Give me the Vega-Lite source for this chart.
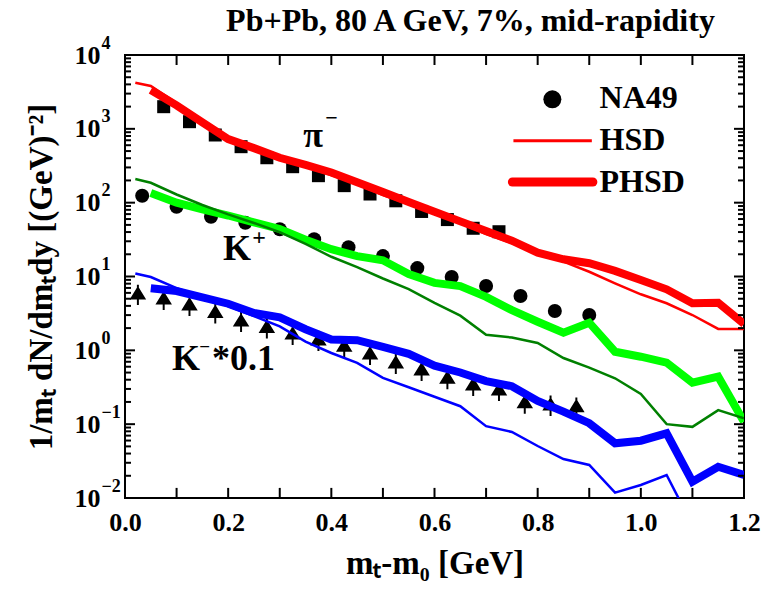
{
  "$schema": "https://vega.github.io/schema/vega-lite/v6.json",
  "width": 619,
  "height": 443,
  "autosize": {"type": "none"},
  "padding": {"left": 125, "top": 55, "right": 19, "bottom": 97},
  "background": "white",
  "config": {
    "view": {"stroke": "black", "strokeWidth": 2},
    "font": "Liberation Serif",
    "axis": {"labelFont": "Liberation Serif", "labelFontWeight": "bold", "labelColor": "black", "titleFont": "Liberation Serif", "titleFontWeight": "bold", "titleColor": "black", "ticks": false, "domain": false, "grid": false, "labelOverlap": false, "labelFlush": false}
  },
  "title": {"text": "Pb+Pb, 80 A GeV, 7%, mid-rapidity", "font": "Liberation Serif", "fontSize": 32, "fontWeight": "bold", "color": "black", "anchor": "middle", "frame": "group", "offset": -4, "dx": 36},
  "datasets": {
    "theory": [
      {"s": "pi HSD", "x": 0.02, "y": 4217}, {"s": "pi HSD", "x": 0.05, "y": 3800}, {"s": "pi HSD", "x": 0.1, "y": 2240}, {"s": "pi HSD", "x": 0.15, "y": 1318}, {"s": "pi HSD", "x": 0.2, "y": 775}, {"s": "pi HSD", "x": 0.25, "y": 550}, {"s": "pi HSD", "x": 0.3, "y": 403}, {"s": "pi HSD", "x": 0.35, "y": 309}, {"s": "pi HSD", "x": 0.4, "y": 237}, {"s": "pi HSD", "x": 0.45, "y": 179}, {"s": "pi HSD", "x": 0.5, "y": 127}, {"s": "pi HSD", "x": 0.55, "y": 96}, {"s": "pi HSD", "x": 0.6, "y": 72.4}, {"s": "pi HSD", "x": 0.65, "y": 53}, {"s": "pi HSD", "x": 0.7, "y": 37.6}, {"s": "pi HSD", "x": 0.75, "y": 28.4}, {"s": "pi HSD", "x": 0.8, "y": 20.6}, {"s": "pi HSD", "x": 0.85, "y": 15.9}, {"s": "pi HSD", "x": 0.9, "y": 11.6}, {"s": "pi HSD", "x": 0.95, "y": 8.09}, {"s": "pi HSD", "x": 1.0, "y": 5.74}, {"s": "pi HSD", "x": 1.05, "y": 4.34}, {"s": "pi HSD", "x": 1.1, "y": 3.01}, {"s": "pi HSD", "x": 1.15, "y": 1.95}, {"s": "pi HSD", "x": 1.2, "y": 1.95},
      {"s": "pi PHSD", "x": 0.05, "y": 3357}, {"s": "pi PHSD", "x": 0.1, "y": 2083}, {"s": "pi PHSD", "x": 0.15, "y": 1225}, {"s": "pi PHSD", "x": 0.2, "y": 728}, {"s": "pi PHSD", "x": 0.25, "y": 548}, {"s": "pi PHSD", "x": 0.3, "y": 405}, {"s": "pi PHSD", "x": 0.35, "y": 324}, {"s": "pi PHSD", "x": 0.4, "y": 256}, {"s": "pi PHSD", "x": 0.45, "y": 189}, {"s": "pi PHSD", "x": 0.5, "y": 139}, {"s": "pi PHSD", "x": 0.55, "y": 102}, {"s": "pi PHSD", "x": 0.6, "y": 75.5}, {"s": "pi PHSD", "x": 0.65, "y": 55.8}, {"s": "pi PHSD", "x": 0.7, "y": 41.3}, {"s": "pi PHSD", "x": 0.75, "y": 30.5}, {"s": "pi PHSD", "x": 0.8, "y": 21.0}, {"s": "pi PHSD", "x": 0.85, "y": 17.1}, {"s": "pi PHSD", "x": 0.9, "y": 15.1}, {"s": "pi PHSD", "x": 0.95, "y": 11.9}, {"s": "pi PHSD", "x": 1.0, "y": 8.96}, {"s": "pi PHSD", "x": 1.05, "y": 6.7}, {"s": "pi PHSD", "x": 1.1, "y": 4.33}, {"s": "pi PHSD", "x": 1.15, "y": 4.42}, {"s": "pi PHSD", "x": 1.2, "y": 2.28},
      {"s": "K+ HSD", "x": 0.02, "y": 209}, {"s": "K+ HSD", "x": 0.05, "y": 186}, {"s": "K+ HSD", "x": 0.1, "y": 129}, {"s": "K+ HSD", "x": 0.15, "y": 93}, {"s": "K+ HSD", "x": 0.2, "y": 69.5}, {"s": "K+ HSD", "x": 0.25, "y": 53}, {"s": "K+ HSD", "x": 0.3, "y": 40}, {"s": "K+ HSD", "x": 0.35, "y": 27.6}, {"s": "K+ HSD", "x": 0.4, "y": 18.5}, {"s": "K+ HSD", "x": 0.45, "y": 13.4}, {"s": "K+ HSD", "x": 0.5, "y": 9.4}, {"s": "K+ HSD", "x": 0.55, "y": 6.75}, {"s": "K+ HSD", "x": 0.6, "y": 4.4}, {"s": "K+ HSD", "x": 0.65, "y": 2.95}, {"s": "K+ HSD", "x": 0.7, "y": 1.62}, {"s": "K+ HSD", "x": 0.75, "y": 1.49}, {"s": "K+ HSD", "x": 0.8, "y": 1.26}, {"s": "K+ HSD", "x": 0.85, "y": 0.787}, {"s": "K+ HSD", "x": 0.9, "y": 0.582}, {"s": "K+ HSD", "x": 0.95, "y": 0.418}, {"s": "K+ HSD", "x": 1.0, "y": 0.256}, {"s": "K+ HSD", "x": 1.05, "y": 0.1}, {"s": "K+ HSD", "x": 1.1, "y": 0.092}, {"s": "K+ HSD", "x": 1.15, "y": 0.155}, {"s": "K+ HSD", "x": 1.2, "y": 0.12},
      {"s": "K+ PHSD", "x": 0.05, "y": 135}, {"s": "K+ PHSD", "x": 0.1, "y": 100}, {"s": "K+ PHSD", "x": 0.15, "y": 81}, {"s": "K+ PHSD", "x": 0.2, "y": 67}, {"s": "K+ PHSD", "x": 0.25, "y": 54}, {"s": "K+ PHSD", "x": 0.3, "y": 44}, {"s": "K+ PHSD", "x": 0.35, "y": 31.5}, {"s": "K+ PHSD", "x": 0.4, "y": 23.4}, {"s": "K+ PHSD", "x": 0.45, "y": 18.9}, {"s": "K+ PHSD", "x": 0.5, "y": 16.6}, {"s": "K+ PHSD", "x": 0.55, "y": 10.8}, {"s": "K+ PHSD", "x": 0.6, "y": 8.2}, {"s": "K+ PHSD", "x": 0.65, "y": 7.4}, {"s": "K+ PHSD", "x": 0.7, "y": 5.3}, {"s": "K+ PHSD", "x": 0.75, "y": 3.5}, {"s": "K+ PHSD", "x": 0.8, "y": 2.44}, {"s": "K+ PHSD", "x": 0.85, "y": 1.73}, {"s": "K+ PHSD", "x": 0.9, "y": 2.37}, {"s": "K+ PHSD", "x": 0.95, "y": 0.957}, {"s": "K+ PHSD", "x": 1.0, "y": 0.82}, {"s": "K+ PHSD", "x": 1.05, "y": 0.68}, {"s": "K+ PHSD", "x": 1.1, "y": 0.364}, {"s": "K+ PHSD", "x": 1.15, "y": 0.44}, {"s": "K+ PHSD", "x": 1.2, "y": 0.108},
      {"s": "K- HSD", "x": 0.02, "y": 11.0}, {"s": "K- HSD", "x": 0.05, "y": 9.84}, {"s": "K- HSD", "x": 0.1, "y": 6.95}, {"s": "K- HSD", "x": 0.15, "y": 5.28}, {"s": "K- HSD", "x": 0.2, "y": 3.97}, {"s": "K- HSD", "x": 0.25, "y": 2.9}, {"s": "K- HSD", "x": 0.3, "y": 2.11}, {"s": "K- HSD", "x": 0.35, "y": 1.31}, {"s": "K- HSD", "x": 0.4, "y": 0.92}, {"s": "K- HSD", "x": 0.45, "y": 0.675}, {"s": "K- HSD", "x": 0.5, "y": 0.423}, {"s": "K- HSD", "x": 0.55, "y": 0.316}, {"s": "K- HSD", "x": 0.6, "y": 0.235}, {"s": "K- HSD", "x": 0.65, "y": 0.175}, {"s": "K- HSD", "x": 0.7, "y": 0.094}, {"s": "K- HSD", "x": 0.75, "y": 0.0783}, {"s": "K- HSD", "x": 0.8, "y": 0.0506}, {"s": "K- HSD", "x": 0.85, "y": 0.0337}, {"s": "K- HSD", "x": 0.9, "y": 0.028}, {"s": "K- HSD", "x": 0.95, "y": 0.0118}, {"s": "K- HSD", "x": 1.0, "y": 0.015}, {"s": "K- HSD", "x": 1.05, "y": 0.0205}, {"s": "K- HSD", "x": 1.1, "y": 0.0043},
      {"s": "K- PHSD", "x": 0.05, "y": 6.95}, {"s": "K- PHSD", "x": 0.1, "y": 6.36}, {"s": "K- PHSD", "x": 0.15, "y": 5.23}, {"s": "K- PHSD", "x": 0.2, "y": 4.28}, {"s": "K- PHSD", "x": 0.25, "y": 3.2}, {"s": "K- PHSD", "x": 0.3, "y": 2.8}, {"s": "K- PHSD", "x": 0.35, "y": 1.93}, {"s": "K- PHSD", "x": 0.4, "y": 1.4}, {"s": "K- PHSD", "x": 0.45, "y": 1.37}, {"s": "K- PHSD", "x": 0.5, "y": 1.11}, {"s": "K- PHSD", "x": 0.55, "y": 0.895}, {"s": "K- PHSD", "x": 0.6, "y": 0.62}, {"s": "K- PHSD", "x": 0.65, "y": 0.501}, {"s": "K- PHSD", "x": 0.7, "y": 0.383}, {"s": "K- PHSD", "x": 0.75, "y": 0.327}, {"s": "K- PHSD", "x": 0.8, "y": 0.206}, {"s": "K- PHSD", "x": 0.85, "y": 0.148}, {"s": "K- PHSD", "x": 0.9, "y": 0.103}, {"s": "K- PHSD", "x": 0.95, "y": 0.0551}, {"s": "K- PHSD", "x": 1.0, "y": 0.0597}, {"s": "K- PHSD", "x": 1.05, "y": 0.0752}, {"s": "K- PHSD", "x": 1.1, "y": 0.0166}, {"s": "K- PHSD", "x": 1.15, "y": 0.0265}, {"s": "K- PHSD", "x": 1.2, "y": 0.0205}
    ],
    "na49": [
      {"p": "pi", "x": 0.075, "y": 1995}, {"p": "pi", "x": 0.125, "y": 1250}, {"p": "pi", "x": 0.175, "y": 825}, {"p": "pi", "x": 0.225, "y": 573}, {"p": "pi", "x": 0.275, "y": 406}, {"p": "pi", "x": 0.325, "y": 307}, {"p": "pi", "x": 0.375, "y": 232}, {"p": "pi", "x": 0.425, "y": 170}, {"p": "pi", "x": 0.475, "y": 131}, {"p": "pi", "x": 0.525, "y": 106}, {"p": "pi", "x": 0.575, "y": 76}, {"p": "pi", "x": 0.625, "y": 59}, {"p": "pi", "x": 0.675, "y": 45}, {"p": "pi", "x": 0.725, "y": 40.4},
      {"p": "K+", "x": 0.0333, "y": 124}, {"p": "K+", "x": 0.1, "y": 88}, {"p": "K+", "x": 0.1667, "y": 64.5}, {"p": "K+", "x": 0.2333, "y": 53.5}, {"p": "K+", "x": 0.3, "y": 43.6}, {"p": "K+", "x": 0.3667, "y": 31.9}, {"p": "K+", "x": 0.4333, "y": 24.9}, {"p": "K+", "x": 0.5, "y": 18.9}, {"p": "K+", "x": 0.5667, "y": 13.0}, {"p": "K+", "x": 0.6333, "y": 9.85}, {"p": "K+", "x": 0.7, "y": 7.43}, {"p": "K+", "x": 0.7667, "y": 5.44}, {"p": "K+", "x": 0.8333, "y": 3.41}, {"p": "K+", "x": 0.9, "y": 3.01},
      {"p": "K-", "x": 0.025, "y": 5.79}, {"p": "K-", "x": 0.075, "y": 4.96}, {"p": "K-", "x": 0.125, "y": 4.11}, {"p": "K-", "x": 0.175, "y": 3.25}, {"p": "K-", "x": 0.225, "y": 2.49}, {"p": "K-", "x": 0.275, "y": 2.04}, {"p": "K-", "x": 0.325, "y": 1.66}, {"p": "K-", "x": 0.375, "y": 1.38}, {"p": "K-", "x": 0.425, "y": 1.14}, {"p": "K-", "x": 0.475, "y": 0.891}, {"p": "K-", "x": 0.525, "y": 0.673}, {"p": "K-", "x": 0.575, "y": 0.542}, {"p": "K-", "x": 0.625, "y": 0.42}, {"p": "K-", "x": 0.675, "y": 0.339}, {"p": "K-", "x": 0.725, "y": 0.29}, {"p": "K-", "x": 0.775, "y": 0.195}, {"p": "K-", "x": 0.825, "y": 0.182}, {"p": "K-", "x": 0.875, "y": 0.172}
    ],
    "xticks": [{"v": 0.1}, {"v": 0.2}, {"v": 0.3}, {"v": 0.4}, {"v": 0.5}, {"v": 0.6}, {"v": 0.7}, {"v": 0.8}, {"v": 0.9}, {"v": 1.0}, {"v": 1.1}],
    "ymajor": [{"v": 0.1}, {"v": 1}, {"v": 10}, {"v": 100}, {"v": 1000}],
    "yminor": [{"v": 0.02}, {"v": 0.03}, {"v": 0.04}, {"v": 0.05}, {"v": 0.06}, {"v": 0.07}, {"v": 0.08}, {"v": 0.09}, {"v": 0.2}, {"v": 0.3}, {"v": 0.4}, {"v": 0.5}, {"v": 0.6}, {"v": 0.7}, {"v": 0.8}, {"v": 0.9}, {"v": 2}, {"v": 3}, {"v": 4}, {"v": 5}, {"v": 6}, {"v": 7}, {"v": 8}, {"v": 9}, {"v": 20}, {"v": 30}, {"v": 40}, {"v": 50}, {"v": 60}, {"v": 70}, {"v": 80}, {"v": 90}, {"v": 200}, {"v": 300}, {"v": 400}, {"v": 500}, {"v": 600}, {"v": 700}, {"v": 800}, {"v": 900}, {"v": 2000}, {"v": 3000}, {"v": 4000}, {"v": 5000}, {"v": 6000}, {"v": 7000}, {"v": 8000}, {"v": 9000}],
    "one": [{}]
  },
  "layer": [
    {
      "data": {"name": "na49"},
      "transform": [{"filter": "datum.p === 'pi'"}],
      "mark": {"type": "point", "shape": "square", "filled": true, "color": "black", "opacity": 1, "size": 169},
      "encoding": {
        "x": {"field": "x", "type": "quantitative", "scale": {"domain": [0, 1.2], "nice": false, "zero": false}, "axis": null},
        "y": {"field": "y", "type": "quantitative", "scale": {"type": "log", "domain": [0.01, 10000], "nice": false},
          "axis": {"orient": "left", "values": [0.01, 0.1, 1, 10, 100, 1000, 10000], "labelExpr": "format(log(datum.value)/LN10, 'd')", "labelAlign": "left", "labelPadding": 24, "labelFontSize": 18, "labelOffset": -12, "title": null}}
      }
    },
    {
      "data": {"name": "na49"},
      "transform": [{"filter": "datum.p === 'K+'"}],
      "mark": {"type": "point", "shape": "circle", "filled": true, "color": "black", "opacity": 1, "size": 196},
      "encoding": {
        "x": {"field": "x", "type": "quantitative", "axis": null},
        "y": {"field": "y", "type": "quantitative", "axis": null}
      }
    },
    {
      "data": {"name": "na49"},
      "transform": [{"filter": "datum.p === 'K-'"}],
      "mark": {"type": "point", "shape": "M0,-0.72L0.75,0.5L-0.75,0.5Z M-0.09,-0.85L0.09,-0.85L0.09,1L-0.09,1Z", "filled": true, "color": "black", "opacity": 1, "size": 484},
      "encoding": {
        "x": {"field": "x", "type": "quantitative", "axis": null},
        "y": {"field": "y", "type": "quantitative", "axis": null}
      }
    },
    {
      "data": {"name": "theory"},
      "transform": [{"filter": "indexof(datum.s, 'PHSD') >= 0"}],
      "mark": {"type": "line", "strokeWidth": 8, "clip": true},
      "encoding": {
        "x": {"field": "x", "type": "quantitative",
          "axis": {"orient": "bottom", "values": [0, 0.1, 0.2, 0.3, 0.4, 0.5, 0.6, 0.7, 0.8, 0.9, 1.0, 1.1, 1.2], "labelExpr": "round(datum.value*10) % 2 == 0 ? format(datum.value, '.1f') : ''", "labelPadding": 11, "labelFontSize": 26, "title": "mₜ-m₀ [GeV]", "titleFontSize": 33, "titlePadding": 12}},
        "y": {"field": "y", "type": "quantitative",
          "axis": {"orient": "left", "values": [0.01, 0.1, 1, 10, 100, 1000, 10000], "labelExpr": "'10'", "labelPadding": 25, "labelFontSize": 26, "title": "1/mₜ dN/dmₜdy [(GeV)⁻²]", "titleFontSize": 33, "titlePadding": 16}},
        "color": {"field": "s", "type": "nominal", "legend": null,
          "scale": {"domain": ["pi HSD", "K+ HSD", "K- HSD", "pi PHSD", "K+ PHSD", "K- PHSD"], "range": ["#ff0000", "#008000", "#0000ff", "#ff0000", "#00ff00", "#0000ff"]}}
      }
    },
    {
      "data": {"name": "theory"},
      "transform": [{"filter": "indexof(datum.s, 'PHSD') < 0"}],
      "mark": {"type": "line", "strokeWidth": 2.5, "clip": true},
      "encoding": {
        "x": {"field": "x", "type": "quantitative", "axis": null},
        "y": {"field": "y", "type": "quantitative", "axis": null},
        "color": {"field": "s", "type": "nominal", "legend": null}
      }
    },
    {
      "data": {"name": "xticks"},
      "mark": {"type": "rule", "color": "black", "strokeWidth": 2},
      "encoding": {"x": {"field": "v", "type": "quantitative", "axis": null}, "y": {"datum": 0.01, "type": "quantitative", "axis": null}, "y2": {"datum": 0.0137}}
    },
    {
      "data": {"name": "xticks"},
      "mark": {"type": "rule", "color": "black", "strokeWidth": 2},
      "encoding": {"x": {"field": "v", "type": "quantitative", "axis": null}, "y": {"datum": 10000, "type": "quantitative", "axis": null}, "y2": {"datum": 7320}}
    },
    {
      "data": {"name": "ymajor"},
      "mark": {"type": "rule", "color": "black", "strokeWidth": 2},
      "encoding": {"y": {"field": "v", "type": "quantitative", "axis": null}, "x": {"datum": 0, "type": "quantitative", "axis": null}, "x2": {"datum": 0.0194}}
    },
    {
      "data": {"name": "ymajor"},
      "mark": {"type": "rule", "color": "black", "strokeWidth": 2},
      "encoding": {"y": {"field": "v", "type": "quantitative", "axis": null}, "x": {"datum": 1.2, "type": "quantitative", "axis": null}, "x2": {"datum": 1.1806}}
    },
    {
      "data": {"name": "yminor"},
      "mark": {"type": "rule", "color": "black", "strokeWidth": 2},
      "encoding": {"y": {"field": "v", "type": "quantitative", "axis": null}, "x": {"datum": 0, "type": "quantitative", "axis": null}, "x2": {"datum": 0.0116}}
    },
    {
      "data": {"name": "yminor"},
      "mark": {"type": "rule", "color": "black", "strokeWidth": 2},
      "encoding": {"y": {"field": "v", "type": "quantitative", "axis": null}, "x": {"datum": 1.2, "type": "quantitative", "axis": null}, "x2": {"datum": 1.1884}}
    },
    {
      "data": {"name": "one"},
      "mark": {"type": "text", "text": "π", "font": "Liberation Serif", "fontWeight": "bold", "fontSize": 36, "align": "left", "baseline": "alphabetic", "color": "black"},
      "encoding": {"x": {"datum": 0.3456, "type": "quantitative", "axis": null}, "y": {"datum": 567, "type": "quantitative", "axis": null}}
    },
    {
      "data": {"name": "one"},
      "mark": {"type": "text", "text": "−", "font": "Liberation Serif", "fontWeight": "bold", "fontSize": 22, "align": "left", "baseline": "middle", "color": "black"},
      "encoding": {"x": {"datum": 0.388, "type": "quantitative", "axis": null}, "y": {"datum": 1402, "type": "quantitative", "axis": null}}
    },
    {
      "data": {"name": "one"},
      "mark": {"type": "text", "text": "K", "font": "Liberation Serif", "fontWeight": "bold", "fontSize": 36, "align": "left", "baseline": "alphabetic", "color": "black"},
      "encoding": {"x": {"datum": 0.19, "type": "quantitative", "axis": null}, "y": {"datum": 16.7, "type": "quantitative", "axis": null}}
    },
    {
      "data": {"name": "one"},
      "mark": {"type": "text", "text": "+", "font": "Liberation Serif", "fontWeight": "bold", "fontSize": 24, "align": "left", "baseline": "middle", "color": "black"},
      "encoding": {"x": {"datum": 0.2466, "type": "quantitative", "axis": null}, "y": {"datum": 33.2, "type": "quantitative", "axis": null}}
    },
    {
      "data": {"name": "one"},
      "mark": {"type": "text", "text": "K", "font": "Liberation Serif", "fontWeight": "bold", "fontSize": 36, "align": "left", "baseline": "alphabetic", "color": "black"},
      "encoding": {"x": {"datum": 0.0913, "type": "quantitative", "axis": null}, "y": {"datum": 0.541, "type": "quantitative", "axis": null}}
    },
    {
      "data": {"name": "one"},
      "mark": {"type": "text", "text": "−", "font": "Liberation Serif", "fontWeight": "bold", "fontSize": 19, "align": "left", "baseline": "middle", "color": "black"},
      "encoding": {"x": {"datum": 0.1437, "type": "quantitative", "axis": null}, "y": {"datum": 1.11, "type": "quantitative", "axis": null}}
    },
    {
      "data": {"name": "one"},
      "mark": {"type": "text", "text": "*0.1", "font": "Liberation Serif", "fontWeight": "bold", "fontSize": 36, "align": "left", "baseline": "alphabetic", "color": "black"},
      "encoding": {"x": {"datum": 0.1685, "type": "quantitative", "axis": null}, "y": {"datum": 0.541, "type": "quantitative", "axis": null}}
    },
    {
      "data": {"name": "one"},
      "mark": {"type": "point", "shape": "circle", "filled": true, "color": "black", "opacity": 1, "size": 324},
      "encoding": {"x": {"datum": 0.8285, "type": "quantitative", "axis": null}, "y": {"datum": 2512, "type": "quantitative", "axis": null}}
    },
    {
      "data": {"name": "one"},
      "mark": {"type": "rule", "color": "#ff0000", "strokeWidth": 3},
      "encoding": {"x": {"datum": 0.753, "type": "quantitative", "axis": null}, "x2": {"datum": 0.905}, "y": {"datum": 690, "type": "quantitative", "axis": null}}
    },
    {
      "data": {"name": "one"},
      "mark": {"type": "rule", "color": "#ff0000", "strokeWidth": 9, "strokeCap": "round"},
      "encoding": {"x": {"datum": 0.751, "type": "quantitative", "axis": null}, "x2": {"datum": 0.907}, "y": {"datum": 190.5, "type": "quantitative", "axis": null}}
    },
    {
      "data": {"name": "one"},
      "mark": {"type": "text", "text": "NA49", "font": "Liberation Serif", "fontWeight": "bold", "fontSize": 32, "align": "left", "baseline": "middle", "color": "black"},
      "encoding": {"x": {"datum": 0.92, "type": "quantitative", "axis": null}, "y": {"datum": 2618, "type": "quantitative", "axis": null}}
    },
    {
      "data": {"name": "one"},
      "mark": {"type": "text", "text": "HSD", "font": "Liberation Serif", "fontWeight": "bold", "fontSize": 32, "align": "left", "baseline": "middle", "color": "black"},
      "encoding": {"x": {"datum": 0.92, "type": "quantitative", "axis": null}, "y": {"datum": 706, "type": "quantitative", "axis": null}}
    },
    {
      "data": {"name": "one"},
      "mark": {"type": "text", "text": "PHSD", "font": "Liberation Serif", "fontWeight": "bold", "fontSize": 32, "align": "left", "baseline": "middle", "color": "black"},
      "encoding": {"x": {"datum": 0.92, "type": "quantitative", "axis": null}, "y": {"datum": 190.5, "type": "quantitative", "axis": null}}
    }
  ],
  "resolve": {"axis": {"x": "independent", "y": "independent"}}
}
